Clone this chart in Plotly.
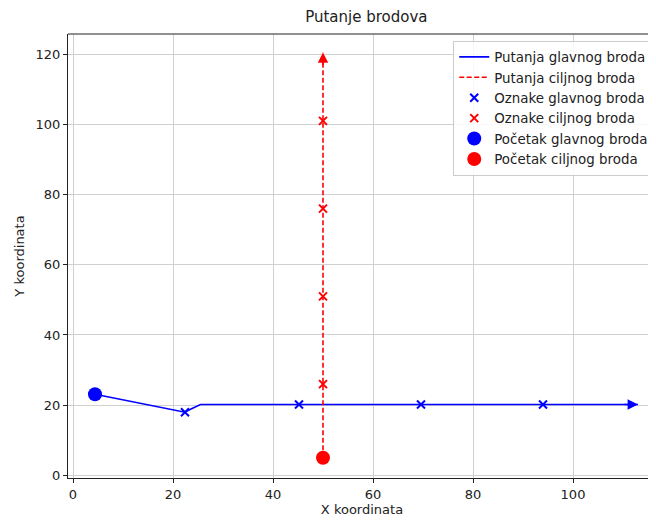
import plotly.graph_objects as go

# Data
main_path_x = [4.4, 22.4, 23.7, 25.5, 113.0]
main_path_y = [23.1, 18.0, 19.0, 20.2, 20.2]
target_path_x = [50, 50]
target_path_y = [5, 120.5]
main_marks_x = [22.4, 45.2, 69.6, 94.0]
main_marks_y = [18.0, 20.2, 20.2, 20.2]
target_marks_x = [50, 50, 50, 50]
target_marks_y = [26, 51, 76, 101]
main_start = (4.4, 23.1)
target_start = (50, 5)
x_ticks = [0, 20, 40, 60, 80, 100]
y_ticks = [0, 20, 40, 60, 80, 100, 120]

BLUE = "#0000ff"
RED = "#ff0000"
FONT = "DejaVu Sans"

fig = go.Figure()
fig.add_trace(go.Scatter(x=main_path_x, y=main_path_y, mode="lines",
                         line=dict(color=BLUE, width=1.6),
                         name="Putanja glavnog broda"))
fig.add_trace(go.Scatter(x=target_path_x, y=target_path_y, mode="lines",
                         line=dict(color=RED, width=1.6, dash="5px,2.5px"),
                         name="Putanja ciljnog broda"))
fig.add_trace(go.Scatter(x=main_marks_x, y=main_marks_y, mode="markers",
                         marker=dict(symbol="x-thin", size=8, color=BLUE,
                                     line=dict(color=BLUE, width=2)),
                         name="Oznake glavnog broda"))
fig.add_trace(go.Scatter(x=target_marks_x, y=target_marks_y, mode="markers",
                         marker=dict(symbol="x-thin", size=8, color=RED,
                                     line=dict(color=RED, width=2)),
                         name="Oznake ciljnog broda"))
fig.add_trace(go.Scatter(x=[main_start[0]], y=[main_start[1]], mode="markers",
                         marker=dict(symbol="circle", size=14, color=BLUE),
                         name="Početak glavnog broda"))
fig.add_trace(go.Scatter(x=[target_start[0]], y=[target_start[1]], mode="markers",
                         marker=dict(symbol="circle", size=14, color=RED),
                         name="Početak ciljnog broda"))

# Arrow heads at path ends
fig.add_annotation(x=main_path_x[-1], y=main_path_y[-1],
                   ax=main_path_x[-1] - 3, ay=main_path_y[-1],
                   xref="x", yref="y", axref="x", ayref="y", text="",
                   showarrow=True, arrowhead=2, arrowsize=1.3, arrowwidth=1.6,
                   arrowcolor=BLUE)
fig.add_annotation(x=target_path_x[-1], y=target_path_y[-1],
                   ax=target_path_x[-1], ay=target_path_y[-1] - 4,
                   xref="x", yref="y", axref="x", ayref="y", text="",
                   showarrow=True, arrowhead=2, arrowsize=1.3, arrowwidth=1.6,
                   arrowcolor=RED)

axis_common = dict(showgrid=True, gridcolor="#d0d0d0", gridwidth=1,
                   zeroline=False, showline=True, linecolor="#222222",
                   linewidth=1, ticks="outside", ticklen=4, tickcolor="#222222",
                   tickfont=dict(family=FONT, size=13, color="#222222"))

# page body has an 8px margin, so the figure is sized to the remaining window
fig.update_layout(
    width=648, height=512,
    margin=dict(l=60, r=0, t=26, b=42),
    paper_bgcolor="white", plot_bgcolor="white",
    font=dict(family=FONT, size=13, color="#222222"),
    title=dict(text="Putanje brodova", x=0.553, xanchor="center",
               y=0.982, yanchor="middle",
               font=dict(family=FONT, size=15, color="#222222")),
    xaxis=dict(range=[-1.0, 116.6], tickvals=x_ticks, mirror=False,
               title=dict(text="X koordinata", standoff=2,
                          font=dict(family=FONT, size=13)),
               automargin=False, **axis_common),
    yaxis=dict(range=[-0.75, 125.75], tickvals=y_ticks, mirror=False,
               title=dict(text="Y koordinata", standoff=8,
                          font=dict(family=FONT, size=13)),
               automargin=False, **axis_common),
    legend=dict(x=0.997, y=0.985, xanchor="right", yanchor="top",
                bgcolor="rgba(255,255,255,0.85)", bordercolor="#cccccc",
                borderwidth=1, font=dict(family=FONT, size=13.4),
                tracegroupgap=0),
    showlegend=True,
)
# top spine
fig.add_shape(type="line", xref="paper", yref="paper", x0=0, x1=1, y0=1, y1=1,
              line=dict(color="#222222", width=1))

fig.write_html("out.html")
